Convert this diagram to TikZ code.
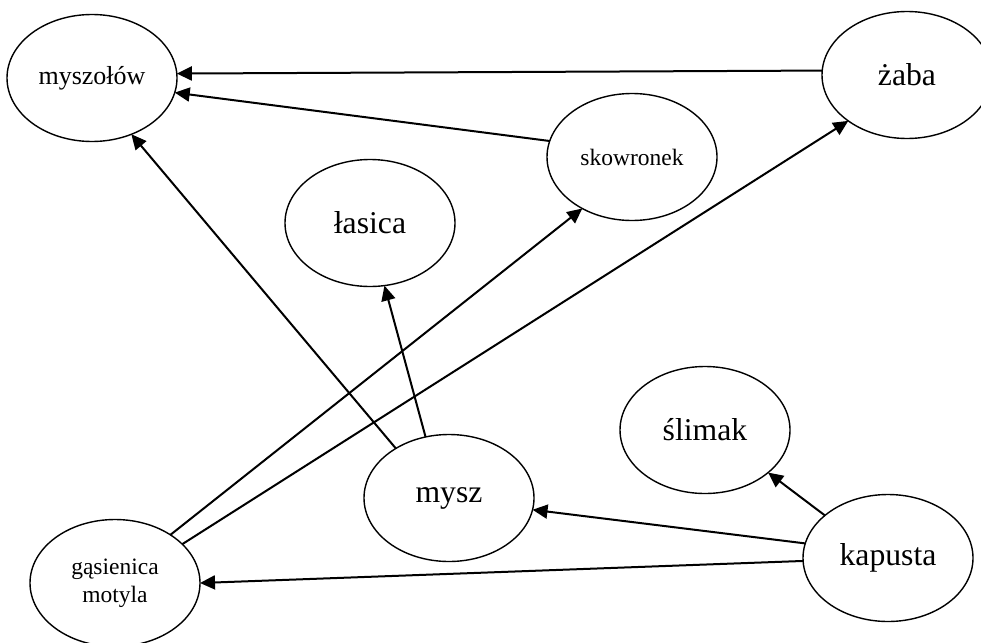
\documentclass[tikz,border=0pt]{standalone}
\usepackage{fontspec}
\setmainfont{Liberation Serif}
\usetikzlibrary{shapes.geometric,arrows.meta}

\begin{document}
\begin{tikzpicture}[x=1pt,y=-1pt,
  animal/.style={ellipse,draw,line width=1.4pt,minimum width=170pt,
    minimum height=127pt,inner sep=0pt,outer sep=0pt,align=center,
    font=\fontsize{31.7}{36}\selectfont},
  midfont/.style={font=\fontsize{26}{30}\selectfont},
  smallfont/.style={font=\fontsize{23.5}{28}\selectfont},
  feeds/.style={line width=2pt,-{Triangle[length=15pt,width=14pt]}}]
\useasboundingbox (0,0) rectangle (981,642);

% organisms
\node[animal,midfont]   (myszolow) at (92,78)   {myszołów};
\node[animal]           (zaba)     at (907,75)  {żaba};
\node[animal,smallfont] (skowr)    at (632,157) {skowronek};
\node[animal]           (lasica)   at (370,223) {łasica};
\node[animal]           (slimak)   at (705,430) {ślimak};
\node[animal]           (mysz)     at (449,498) {mysz};
\node[animal,smallfont] (gasien)   at (115,583) {gąsienica\\motyla};
\node[animal]           (kapusta)  at (888,558) {kapusta};

% who is eaten by whom
\draw[feeds] (zaba.177.3)    -- (myszolow.3.3);
\draw[feeds] (skowr.169.6)   -- (myszolow.-10.5);
\draw[feeds] (mysz.137.2)    -- (myszolow.-55.4);
\draw[feeds] (mysz.111.6)    -- (lasica.-77.8);
\draw[feeds] (gasien.41.1)   -- (skowr.226);
\draw[feeds] (gasien.30.8)   -- (zaba.218.5);
\draw[feeds] (kapusta.170.8) -- (mysz.-8.6);
\draw[feeds] (kapusta.182)   -- (gasien.0.7);
\draw[feeds] (kapusta.146.9) -- (slimak.-34.3);
\end{tikzpicture}
\end{document}
